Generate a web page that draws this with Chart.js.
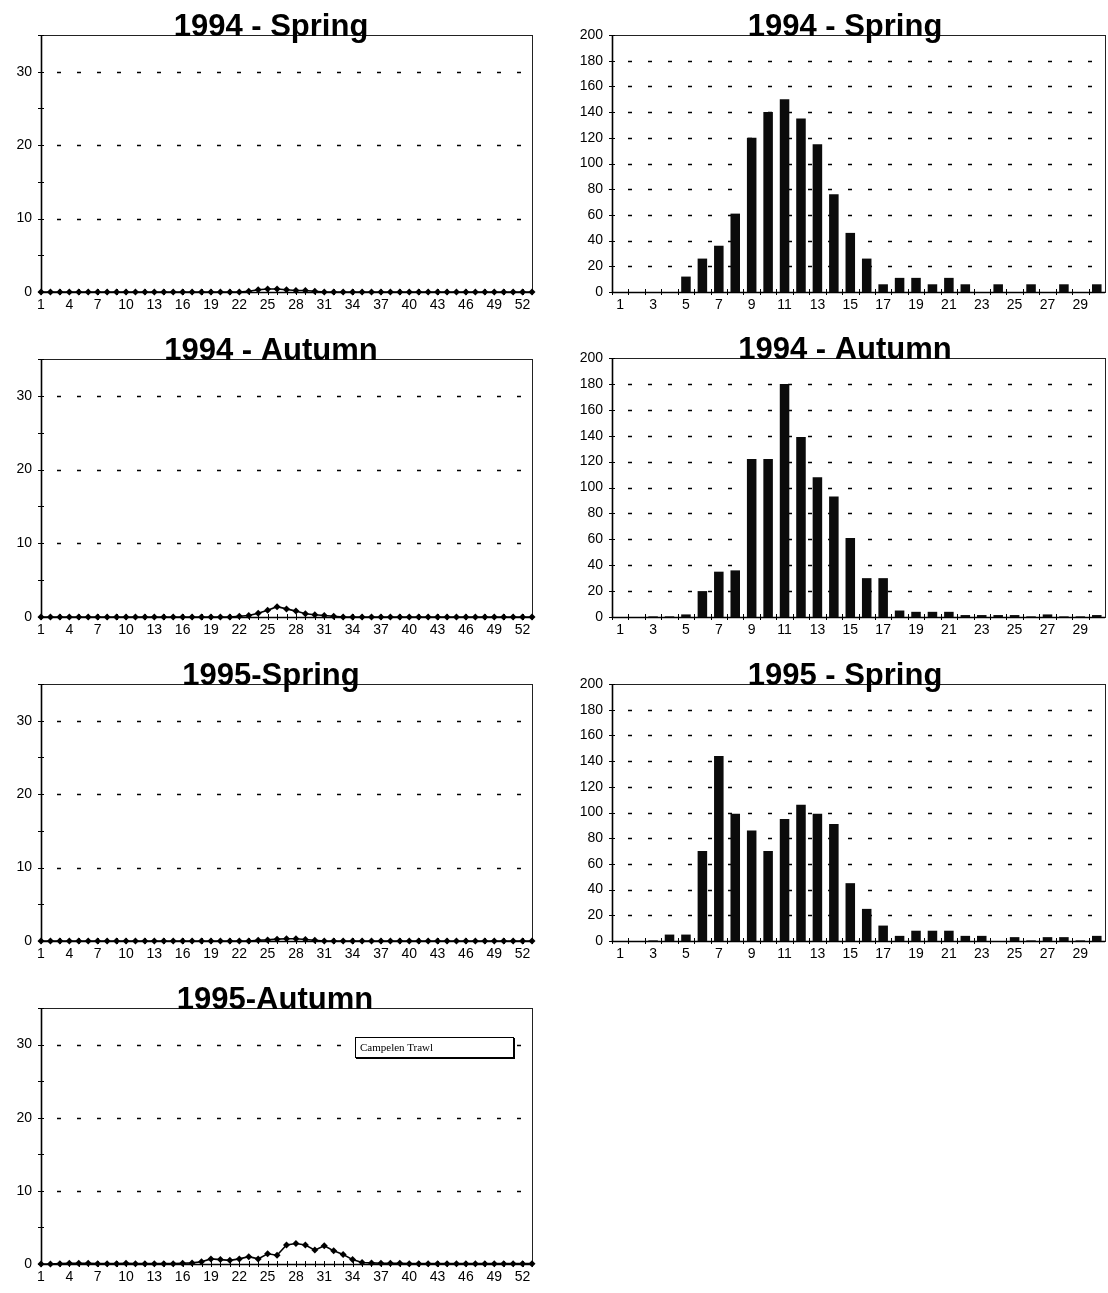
<!DOCTYPE html>
<html><head><meta charset="utf-8">
<script src="https://cdn.jsdelivr.net/npm/chart.js@4.4.1/dist/chart.umd.min.js"></script>
<style>
html,body{margin:0;padding:0;background:#fff;}
#page{position:relative;width:1108px;height:1293px;overflow:hidden;background:#fff;}
.box{position:absolute;}
.box canvas{display:block;}
#legend{position:absolute;left:355px;top:1037px;width:153px;height:19px;border:1px solid #000;box-shadow:1px 1px 0 #000;font:11px "Liberation Serif",serif;line-height:19px;padding-left:4px;color:#000;background:#fff;}
</style></head><body>
<div id="page">
  <div class="box" style="left:0;top:0"><canvas id="c1"></canvas></div>
  <div class="box" style="left:0;top:324px"><canvas id="c2"></canvas></div>
  <div class="box" style="left:0;top:649px"><canvas id="c3"></canvas></div>
  <div class="box" style="left:0;top:973px"><canvas id="c4"></canvas></div>
  <div class="box" style="left:560px;top:0"><canvas id="c5"></canvas></div>
  <div class="box" style="left:560px;top:323px"><canvas id="c6"></canvas></div>
  <div class="box" style="left:560px;top:649px"><canvas id="c7"></canvas></div>
  <div id="legend">Campelen Trawl</div>
</div>
<script>
// ---- data ----
const weeks = [1,2,3,4,5,6,7,8,9,10,11,12,13,14,15,16,17,18,19,20,21,22,23,24,25,26,27,28,29,30,31,32,33,34,35,36,37,38,39,40,41,42,43,44,45,46,47,48,49,50,51,52,53];
const lengthClasses = [1,2,3,4,5,6,7,8,9,10,11,12,13,14,15,16,17,18,19,20,21,22,23,24,25,26,27,28,29,30];

const spring1994Weekly = [0,0,0,0,0,0,0,0,0,0,0,0,0,0,0,0,0,0,0,0,0,0,0.1,0.3,0.4,0.4,0.3,0.2,0.2,0.1,0,0,0,0,0,0,0,0,0,0,0,0,0,0,0,0,0,0,0,0,0,0,0];
const autumn1994Weekly = [0,0,0,0,0,0,0,0,0,0,0,0,0,0,0,0,0,0,0,0,0,0.1,0.2,0.5,0.9,1.4,1.1,0.8,0.45,0.3,0.2,0.1,0,0,0,0,0,0,0,0,0,0,0,0,0,0,0,0,0,0,0,0,0];
const spring1995Weekly = [0,0,0,0,0,0,0,0,0,0,0,0,0,0,0,0,0,0,0,0,0,0,0,0.1,0.15,0.25,0.3,0.3,0.2,0.1,0,0,0,0,0,0,0,0,0,0,0,0,0,0,0,0,0,0,0,0,0,0,0];
const autumn1995Weekly = [0,0,0.05,0.1,0.1,0.1,0.05,0.05,0.05,0.1,0.05,0.05,0.05,0.05,0.05,0.1,0.15,0.3,0.7,0.6,0.5,0.7,1.0,0.7,1.4,1.2,2.6,2.8,2.6,1.9,2.5,1.8,1.3,0.6,0.2,0.15,0.1,0.1,0.1,0.05,0.05,0.05,0.05,0.05,0.05,0.05,0.05,0.05,0.05,0.05,0.05,0.05,0.05];

const spring1994Len = [0,0,0,0,12,26,36,61,120,140,150,135,115,76,46,26,6,11,11,6,11,6,0,6,0,6,0,6,0,6];
const autumn1994Len = [0,0,0.5,0.5,2,20,35,36,122,122,180,139,108,93,61,30,30,5,4,4,4,1.5,1.5,1.5,1.5,0.5,2,0.5,0.5,1.5];
const spring1995Len = [0,0,0.5,5,5,70,144,99,86,70,95,106,99,91,45,25,12,4,8,8,8,4,4,0,3,0.5,3,3,0.5,4];

const weeklyTicks = [0,10,20,30];
const lengthTicks = [0,20,40,60,80,100,120,140,160,180,200];

// ---- drawing helpers ----
const FONT = '"Liberation Sans", Arial, Helvetica, sans-serif';

const deco = {
  id: 'deco',
  beforeDatasetsDraw(chart, args, o) {
    const {ctx, chartArea: a, scales: {x, y}} = chart;
    ctx.save();
    ctx.strokeStyle = '#000';
    ctx.lineWidth = 1.4;
    ctx.setLineDash([4, 16]);
    ctx.lineDashOffset = o.dashOffset;
    y.ticks.forEach(t => {
      if (t.value > 0 && t.value < o.yMax && o.labelled.includes(t.value)) {
        const py = Math.round(y.getPixelForValue(t.value)) + 0.5;
        ctx.beginPath(); ctx.moveTo(a.left, py); ctx.lineTo(a.right, py); ctx.stroke();
      }
    });
    ctx.setLineDash([]);
    ctx.lineWidth = 1;
    ctx.strokeStyle = '#222';
    ctx.strokeRect(a.left + 0.5, a.top + 0.5, a.right - a.left, a.bottom - a.top);
    ctx.lineWidth = 1.6;
    ctx.strokeStyle = '#000';
    ctx.beginPath(); ctx.moveTo(a.left + 0.5, a.top); ctx.lineTo(a.left + 0.5, a.bottom + 0.5); ctx.lineTo(a.right, a.bottom + 0.5); ctx.stroke();
    ctx.lineWidth = 1;
    y.ticks.forEach(t => {
      const py = Math.round(y.getPixelForValue(t.value)) + 0.5;
      ctx.beginPath(); ctx.moveTo(a.left - 3, py); ctx.lineTo(a.left + 3, py); ctx.stroke();
    });
    const n = chart.data.labels.length;
    for (let i = 0; i < n; i++) {
      let px;
      if (o.bars) {
        px = i === 0 ? a.left : (x.getPixelForValue(i - 1) + x.getPixelForValue(i)) / 2;
      } else {
        px = x.getPixelForValue(i);
      }
      px = Math.round(px) + 0.5;
      ctx.beginPath(); ctx.moveTo(px, a.bottom - 3); ctx.lineTo(px, a.bottom + 3); ctx.stroke();
    }
    ctx.restore();
  },
  afterDraw(chart, args, o) {
    const {ctx, chartArea: a} = chart;
    ctx.save();
    ctx.font = 'bold 31px ' + FONT;
    ctx.fillStyle = '#000';
    ctx.textAlign = 'center';
    ctx.textBaseline = 'alphabetic';
    ctx.fillText(o.title, o.titleX, a.top + 1);
    ctx.restore();
  }
};
Chart.register(deco);

function makeChart(id, spec) {
  const cv = document.getElementById(id);
  cv.width = spec.w; cv.height = spec.h;
  cv.style.width = spec.w + 'px'; cv.style.height = spec.h + 'px';
  const bars = spec.type === 'bar';
  const ds = bars ? {
    data: spec.data, backgroundColor: '#0b0b0b', borderWidth: 0,
    barPercentage: 0.58, categoryPercentage: 1.0
  } : {
    data: spec.data, borderColor: '#000', borderWidth: 1.6, tension: 0,
    pointStyle: 'rectRot', pointRadius: 3.5, pointBackgroundColor: '#000',
    pointBorderColor: '#000', pointBorderWidth: 0, clip: false
  };
  return new Chart(cv, {
    type: spec.type,
    data: {labels: spec.labels, datasets: [ds]},
    options: {
      responsive: false, animation: false, devicePixelRatio: 1,
      events: [],
      layout: {padding: {top: 35, right: spec.padRight, bottom: 0, left: 0}},
      plugins: {
        legend: {display: false}, tooltip: {enabled: false}, title: {display: false},
        deco: {title: spec.title, titleX: spec.titleX, yMax: spec.yMax, labelled: spec.yLabels,
               dashOffset: 4, bars: bars}
      },
      scales: {
        x: {
          type: 'category', offset: bars,
          grid: {display: false, drawTicks: false, tickLength: 0},
          border: {display: false},
          ticks: {
            autoSkip: false, maxRotation: 0, minRotation: 0, padding: 5,
            color: '#000', font: {family: FONT, size: 14},
            callback: (v, i) => spec.xShow(i) ? spec.labels[i] : ''
          },
          afterFit: s => { s.height = spec.h - 35 - spec.areaH; }
        },
        y: {
          min: 0, max: spec.yMax,
          grid: {display: false, drawTicks: false, tickLength: 0},
          border: {display: false},
          ticks: {
            stepSize: spec.yStep, padding: 9, color: '#000', font: {family: FONT, size: 14},
            callback: v => spec.yLabels.includes(v) ? String(v) : ''
          },
          afterFit: s => { s.width = spec.areaLeft; }
        }
      }
    }
  });
}

const leftBase = {type: 'line', labels: weeks, w: 550, padRight: 18, areaLeft: 41,
  yMax: 35, yStep: 5, yLabels: weeklyTicks, titleX: 271, xShow: i => i % 3 === 0};
const rightBase = {type: 'bar', labels: lengthClasses, w: 548, padRight: 3, areaLeft: 52,
  yMax: 200, yStep: 10, yLabels: lengthTicks, titleX: 285, xShow: i => i % 2 === 0};

makeChart('c1', Object.assign({}, leftBase, {data: spring1994Weekly, title: '1994 - Spring', areaH: 257, h: 35 + 257 + 28}));
makeChart('c2', Object.assign({}, leftBase, {data: autumn1994Weekly, title: '1994 - Autumn', areaH: 258, h: 35 + 258 + 28}));
makeChart('c3', Object.assign({}, leftBase, {data: spring1995Weekly, title: '1995-Spring', areaH: 257, h: 35 + 257 + 28}));
makeChart('c4', Object.assign({}, leftBase, {data: autumn1995Weekly, title: '1995-Autumn', areaH: 256, h: 35 + 256 + 28, titleX: 275}));
makeChart('c5', Object.assign({}, rightBase, {data: spring1994Len, title: '1994 - Spring', areaH: 257, h: 35 + 257 + 28}));
makeChart('c6', Object.assign({}, rightBase, {data: autumn1994Len, title: '1994 - Autumn', areaH: 259, h: 35 + 259 + 28}));
makeChart('c7', Object.assign({}, rightBase, {data: spring1995Len, title: '1995 - Spring', areaH: 257, h: 35 + 257 + 28}));
</script>
</body></html>
